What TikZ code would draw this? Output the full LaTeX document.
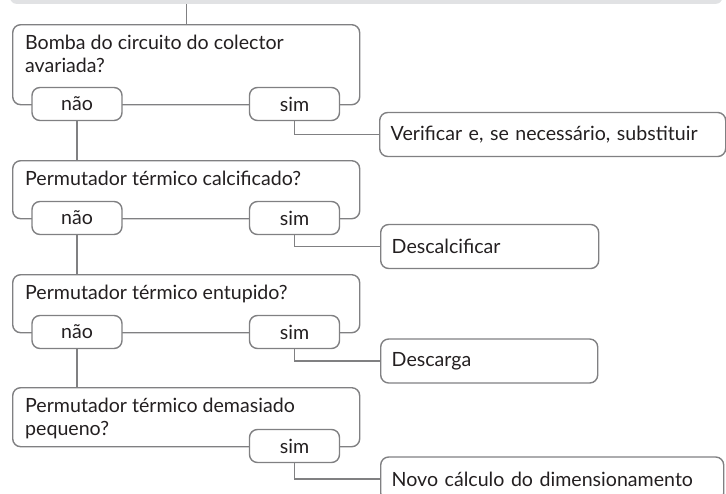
\documentclass[tikz,border=0pt]{standalone}
\usepackage{fontspec}
\setmainfont{Lato}
\usepackage{xcolor}
\definecolor{frame}{RGB}{128, 128, 130}
\definecolor{headgray}{RGB}{225, 226, 228}
\definecolor{ink}{RGB}{35, 31, 32}
\usetikzlibrary{calc}

\begin{document}
\begin{tikzpicture}[
  x = 1pt, y = 1pt,
  every node/.style = {font=\fontsize{19.6}{22.5}\selectfont, text=ink},
  % node styles
  head/.style  = {rectangle, rounded corners=6pt, fill=headgray,
                  minimum width=712pt, minimum height=30pt, inner sep=0pt},
  ques/.style  = {rectangle, rounded corners=8pt, draw=frame, line width=1.4pt,
                  minimum width=347pt, anchor=north west, inner sep=0pt},
  qtext/.style = {anchor=north west, align=left, inner sep=0pt,
                  xshift=13pt, yshift=-11pt},
  ans/.style   = {rectangle, rounded corners=8pt, draw=frame, fill=white,
                  line width=1.4pt, minimum width=90pt, minimum height=33pt,
                  inner sep=0pt},
  act/.style   = {rectangle, rounded corners=8pt, draw=frame, line width=1.4pt,
                  minimum height=44pt, align=left, inner xsep=11pt, anchor=west},
  % connector style
  link/.style  = {draw=frame, line width=1.4pt},
]
\useasboundingbox (0,0) rectangle (726,-493);

%% Header bar (cut by the page top)
\node[head, anchor=south west] (top) at (10,-4) {};

%% Questions
\node[ques, minimum height=80pt,
      label={[qtext]north west:Bomba do circuito do colector\\avariada?}] (q1) at (12,-24) {};
\node[ques, minimum height=58pt,
      label={[qtext]north west:Permutador térmico calcificado?}] (q2) at (12,-160) {};
\node[ques, minimum height=58pt,
      label={[qtext]north west:Permutador térmico entupido?}] (q3) at (12,-274) {};
\node[ques, minimum height=59pt,
      label={[qtext]north west:Permutador térmico demasiado\\pequeno?}] (q4) at (12,-387) {};

%% Answers (sitting on the lower edge of each question)
\node[ans] (no1)  at (77,-104)    {não};
\node[ans] (yes1) at (294.5,-104) {sim};
\node[ans] (no2)  at (77,-218)    {não};
\node[ans] (yes2) at (294.5,-218) {sim};
\node[ans] (no3)  at (77,-332)    {não};
\node[ans] (yes3) at (294.5,-332) {sim};
\node[ans] (yes4) at (294.5,-446) {sim};

%% Actions
\node[act, text width=324pt] (fix1) at (379,-134.5) {Verificar e, se necessário, substituir};
\node[act, text width=196pt] (fix2) at (380,-246.5) {Descalcificar};
\node[act, text width=195pt] (fix3) at (380,-361)   {Descarga};
\node[act, text width=321pt] (fix4) at (380,-479)   {Novo cálculo do dimensionamento};

%% Flow lines
\draw[link] (top.south -| q1.north) -- (q1.north);
\draw[link] (no1.south) -- (no1.south |- q2.north);
\draw[link] (no2.south) -- (no2.south |- q3.north);
\draw[link] (no3.south) -- (no3.south |- q4.north);

\draw[link] (yes1.south) |- (fix1.west);
\draw[link] (yes2.south) |- (fix2.west);
\draw[link] (yes3.south) |- (fix3.west);
\draw[link] (yes4.south) |- (fix4.west);

\end{tikzpicture}
\end{document}
